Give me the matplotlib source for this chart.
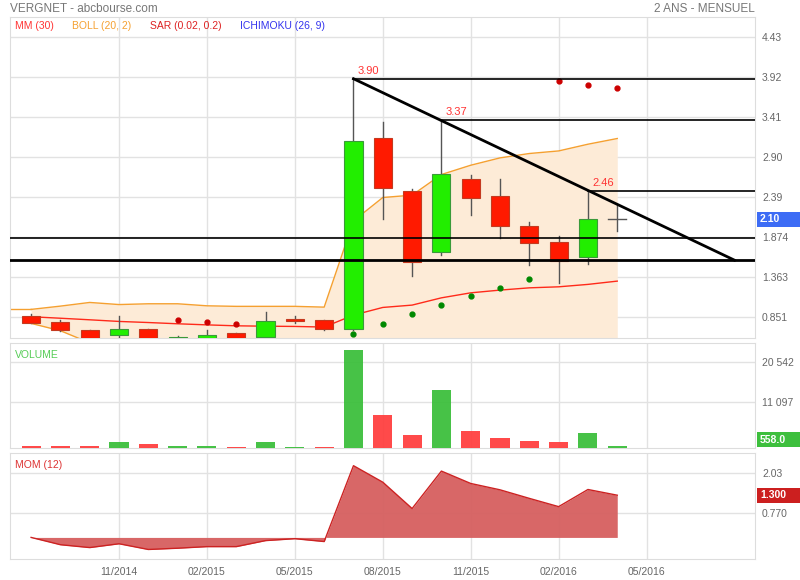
import numpy as np
import matplotlib
matplotlib.use('Agg')
import matplotlib.pyplot as plt
from matplotlib.patches import Rectangle

plt.rcParams['font.family'] = ['Liberation Sans', 'DejaVu Sans']

# Données mensuelles (08/2014 -> 04/2016)
ouverture = [0.862, 0.782, 0.679, 0.623, 0.692, 0.555, 0.585, 0.645, 0.600, 0.820, 0.807,
             0.700, 3.147, 2.461, 1.684, 2.620, 2.397, 2.013, 1.805, 1.621, 2.100]
haut = [0.888, 0.811, 0.690, 0.862, 0.700, 0.607, 0.683, 0.650, 0.913, 0.862, 0.810,
        3.890, 3.343, 2.490, 3.370, 2.665, 2.614, 2.064, 1.890, 2.460, 2.282]
bas = [0.777, 0.670, 0.500, 0.600, 0.500, 0.540, 0.570, 0.560, 0.600, 0.770, 0.690,
       0.690, 2.107, 1.378, 1.642, 2.154, 1.856, 1.518, 1.288, 1.523, 1.953]
cloture = [0.777, 0.679, 0.560, 0.692, 0.560, 0.594, 0.619, 0.585, 0.798, 0.800, 0.700,
           3.109, 2.508, 1.557, 2.678, 2.380, 2.009, 1.800, 1.562, 2.099, 2.100]

# Indicateurs
mm30 = [0.854, 0.835, 0.815, 0.794, 0.780, 0.764, 0.750, 0.738, 0.733, 0.730, 0.722,
        0.875, 0.973, 1.003, 1.096, 1.160, 1.195, 1.224, 1.237, 1.268, 1.310]
boll_haut = [0.948, 0.990, 1.037, 1.010, 1.020, 1.020, 0.994, 0.987, 0.987, 0.987, 0.977,
             2.081, 2.380, 2.410, 2.674, 2.793, 2.887, 2.943, 2.976, 3.062, 3.135]
boll_bas = [0.769, 0.675, 0.520, 0.480, 0.450, 0.430, 0.420, 0.410, 0.400, 0.400, 0.400,
            0.300, 0.250, 0.200, 0.200, 0.200, 0.200, 0.200, 0.200, 0.200, 0.200]
sar = [np.nan, np.nan, np.nan, np.nan, np.nan, 0.815, 0.786, 0.764, np.nan, np.nan, np.nan,
       0.632, 0.760, 0.888, 1.003, 1.118, 1.220, 1.335, 3.871, 3.816, 3.778]
sar_haussier = [False] * 11 + [True] * 7 + [False] * 3

volume = [540, 540, 540, 1490, 1015, 540, 610, 380, 1490, 380, 380,
          23440, 7860, 3070, 14000, 4085, 2360, 1800, 1420, 3610, 558]

momentum = [0.00, -0.23, -0.32, -0.20, -0.38, -0.34, -0.29, -0.29, -0.10, -0.04, -0.13,
            2.26, 1.74, 0.91, 2.09, 1.70, 1.50, 1.23, 0.97, 1.51, 1.33]

# Niveaux tracés à la main
niveaux_hauts = [(11, 3.90), (14, 3.37), (19, 2.46)]
supports = [1.860, 1.578]
tendance = [(11, 3.90), (24, 1.578)]

mois_ticks = [3, 6, 9, 12, 15, 18, 21]
labels_mois = ['11/2014', '02/2015', '05/2015', '08/2015', '11/2015', '02/2016', '05/2016']
ticks_prix = [0.851, 1.363, 1.874, 2.39, 2.90, 3.41, 3.92, 4.43]
ticks_volume = [11097, 20542]
ticks_mom = [0.770, 2.03]

x = np.arange(len(cloture))
W, H = 800, 580
gris = '#dddddd'
texte = '#666666'


def rect(x0, y0, x1, y1):
    return [x0 / W, 1 - y1 / H, (x1 - x0) / W, (y1 - y0) / H]


def style_axe(ax, yticks, fmt):
    ax.set_xlim(-0.72, 24.7)
    ax.set_xticks(mois_ticks)
    ax.set_yticks(yticks)
    ax.set_yticklabels([fmt(v) for v in yticks])
    ax.yaxis.tick_right()
    ax.tick_params(length=0, labelsize=7.5, labelcolor=texte, pad=5)
    ax.grid(True, color='#e2e2e2', lw=1)
    ax.set_axisbelow(True)
    for s in ax.spines.values():
        s.set_color(gris)


# Etiquette colorée de la dernière valeur, à droite de l'axe
def etiquette(ax, y, txt, couleur, decalage=0):
    ypix = ax.transData.transform((0, y))[1] + decalage
    yfig = ypix / fig.dpi / fig.get_figheight()
    h = 15 / H
    fig.add_artist(Rectangle((757 / W, yfig - h / 2), 43 / W, h, transform=fig.transFigure,
                             fc=couleur, ec='none'))
    fig.text(760 / W, yfig, txt, fontsize=7.5, color='white', fontweight='bold', va='center')


fig = plt.figure(figsize=(8, 5.8), dpi=100)

# Graphique principal
ax = fig.add_axes(rect(10, 17, 755, 338))
ax.set_ylim(0.582, 4.69)
style_axe(ax, ticks_prix, lambda v: f'{v:.3f}' if v < 2 else f'{v:.2f}')
ax.set_xticklabels([])

ax.fill_between(x, boll_bas, boll_haut, color='#fdebd7', lw=0, zorder=1)
ax.plot(x, boll_haut, color='#f5a030', lw=1, zorder=2)
ax.plot(x, boll_bas, color='#f5a030', lw=1, zorder=2)
ax.plot([x[0] - 1, x[0]], [boll_haut[0], boll_haut[0]], color='#f5a030', lw=1)
ax.plot(x, mm30, color='#ff2a1a', lw=1, zorder=3)

for i in range(len(x)):
    o, h, l, c = ouverture[i], haut[i], bas[i], cloture[i]
    ax.plot([i, i], [l, h], color='#555555', lw=1, zorder=4)
    if abs(c - o) < 0.005:
        ax.plot([i - 0.3, i + 0.3], [c, c], color='#555555', lw=1, zorder=5)
        continue
    hausse = c > o
    fc = '#22ee00' if hausse else '#ff1a00'
    ec = '#3a9a3a' if hausse else '#c43a20'
    ax.bar(i, abs(c - o), bottom=min(o, c), width=0.62, color=fc, edgecolor=ec, lw=0.8, zorder=5)

for i in range(len(x)):
    if not np.isnan(sar[i]):
        ax.plot(i, sar[i], 'o', ms=3.5, color='#008800' if sar_haussier[i] else '#cc0000', zorder=6)

for i, niveau in niveaux_hauts:
    ax.plot([i, 24.7], [niveau, niveau], color='black', lw=1.2, zorder=6)
    ax.annotate(f'{niveau:.2f}', (i, niveau), xytext=(3, 2), textcoords='offset points',
                fontsize=8, color='#ff3333', ha='left', va='bottom')
ax.axhline(supports[0], color='black', lw=1.2, zorder=6)
ax.axhline(supports[1], color='black', lw=2, zorder=6)
ax.plot([p[0] for p in tendance], [p[1] for p in tendance], color='black', lw=2, zorder=7)

# Légende des indicateurs
legende = [('MM (30)', '#ff3333', 15), ('BOLL (20, 2)', '#f5a030', 72),
           ('SAR (0.02, 0.2)', '#dd2222', 150), ('ICHIMOKU (26, 9)', '#3333ee', 240)]
for txt, col, px in legende:
    fig.text(px / W, 1 - 26 / H, txt, color=col, fontsize=7.5, va='center')

fig.text(10 / W, 1 - 9 / H, 'VERGNET - abcbourse.com', color='#777777', fontsize=8.5, va='center')
fig.text(755 / W, 1 - 9 / H, '2 ANS - MENSUEL', color='#777777', fontsize=8.5, va='center', ha='right')

# Volume
axv = fig.add_axes(rect(10, 342.7, 755, 448.3))
axv.set_ylim(0, 25170)
style_axe(axv, ticks_volume, lambda v: f'{v:,.0f}'.replace(',', ' '))
axv.set_xticklabels([])
couleurs_vol = ['#ff4040'] + ['#3dbf3d' if cloture[i] >= cloture[i - 1] else '#ff4040'
                              for i in range(1, len(x))]
axv.bar(x, volume, width=0.65, color=couleurs_vol, alpha=0.95, zorder=3)
axv.text(0.007, 0.93, 'VOLUME', transform=axv.transAxes, color='#55cc55', fontsize=7.5, va='top')

# Momentum
axm = fig.add_axes(rect(10, 453, 755, 559))
axm.set_ylim(-0.68, 2.66)
style_axe(axm, ticks_mom, lambda v: f'{v:.3f}' if v < 1 else f'{v:.2f}')
axm.set_xticklabels(labels_mois)
axm.tick_params(axis='x', pad=6, labelsize=7.5, labelcolor=texte)
axm.fill_between(x, 0, momentum, color='#d65f5f', alpha=0.95, lw=0, zorder=2)
axm.plot(x, momentum, color='#cc2222', lw=1, zorder=3)
axm.text(0.007, 0.93, 'MOM (12)', transform=axm.transAxes, color='#dd3333', fontsize=7.5, va='top')

etiquette(ax, cloture[-1], f'{cloture[-1]:.2f}', '#3d6cf5')
etiquette(axv, volume[-1], f'{volume[-1]:.1f}', '#3dbf3d', decalage=6)
etiquette(axm, momentum[-1], '1.300', '#cc1f1f')

fig.savefig('out.png', dpi=100)
